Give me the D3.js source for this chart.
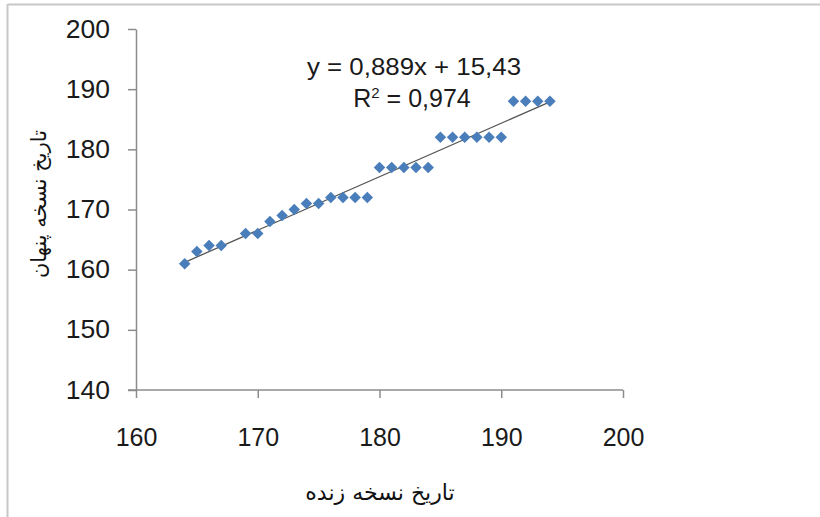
<!DOCTYPE html>
<html><head><meta charset="utf-8">
<script src="https://cdn.jsdelivr.net/npm/d3@7"></script>
<style>html,body{margin:0;padding:0;background:#fff;}</style>
</head><body>
<svg id="c" width="820" height="517"></svg>
<script>
const xValues = [164,165,166,167,169,170,171,172,173,174,175,176,177,178,179,180,181,182,183,184,185,186,187,188,189,190,191,192,193,194];
const yValues = [161,163,164,164,166,166,168,169,170,171,171,172,172,172,172,177,177,177,177,177,182,182,182,182,182,182,188,188,188,188];
const xTicks = [160,170,180,190,200];
const yTicks = [140,150,160,170,180,190,200];
const slope = 0.889, intercept = 15.43;
const eqText = "y = 0,889x + 15,43";
const r2Label = "R", r2Value = " = 0,974";
const xTitle = "تاریخ نسخه زنده";
const yTitle = "تاریخ نسخه پنهان";

const svg = d3.select("#c");
// frame
svg.append("line").attr("x1",7.5).attr("x2",820).attr("y1",4.5).attr("y2",4.5).attr("stroke","#c8c8c8").attr("stroke-width",2);
svg.append("line").attr("x1",7.5).attr("x2",7.5).attr("y1",4).attr("y2",517).attr("stroke","#c8c8c8").attr("stroke-width",2);

const x = d3.scaleLinear().domain([160,200]).range([136,623]);
const y = d3.scaleLinear().domain([140,200]).range([390,29]);
const ff = "'Liberation Sans',Arial,sans-serif";

const xAxis = svg.append("g").attr("transform",`translate(0,${y(140)})`)
  .call(d3.axisBottom(x).tickValues(xTicks).tickSize(8).tickSizeOuter(0).tickPadding(30));
const yAxis = svg.append("g").attr("transform",`translate(${x(160)},0)`)
  .call(d3.axisLeft(y).tickValues(yTicks).tickSize(8).tickSizeOuter(0).tickPadding(26));
[xAxis,yAxis].forEach(a=>{
  a.selectAll("path,line").attr("stroke","#8c8c8c").attr("stroke-width",1.5);
  a.selectAll("text").attr("fill","#1a1a1a").style("font-family",ff).style("font-size","25px");
});
yAxis.selectAll(".tick text").attr("transform","scale(1.06,1)").attr("x",-26/1.06);
xAxis.select("path").attr("d",`M${x(160)-8},0H${x(200)}`);

// trendline
const x0 = d3.min(xValues), x1 = d3.max(xValues);
svg.append("line")
  .attr("x1",x(x0)).attr("y1",y(slope*x0+intercept))
  .attr("x2",x(x1)).attr("y2",y(slope*x1+intercept))
  .attr("stroke","#555").attr("stroke-width",1.3);

// markers
const sym = d3.symbol().type(d3.symbolSquare).size(66);
svg.append("g").selectAll("path").data(xValues.map((v,i)=>[v,yValues[i]])).join("path")
  .attr("d",sym)
  .attr("transform",d=>`translate(${x(d[0])},${y(d[1])}) rotate(45)`)
  .attr("fill","#4A7EBB");

// equation
svg.append("text").attr("x",414).attr("y",75).attr("text-anchor","middle")
  .attr("textLength",214).attr("lengthAdjust","spacingAndGlyphs")
  .style("font-family",ff).style("font-size","24px").attr("fill","#1a1a1a").text(eqText);
const r2 = svg.append("text").attr("x",412).attr("y",107).attr("text-anchor","middle")
  .style("font-family",ff).style("font-size","25px").attr("fill","#1a1a1a");
r2.append("tspan").text(r2Label);
r2.append("tspan").attr("dy",-9).style("font-size","15px").text("2");
r2.append("tspan").attr("dy",9).text(r2Value);

// axis titles
svg.append("text").attr("x",380).attr("y",500).attr("text-anchor","middle").attr("direction","rtl")
  .style("font-family","'DejaVu Sans',sans-serif").style("font-size","22px").attr("fill","#111").text(xTitle);
svg.append("text").attr("transform","translate(46,204) rotate(-90)").attr("text-anchor","middle").attr("direction","rtl")
  .style("font-family","'DejaVu Sans',sans-serif").style("font-size","21px").attr("fill","#111").text(yTitle);
</script>
</body></html>
